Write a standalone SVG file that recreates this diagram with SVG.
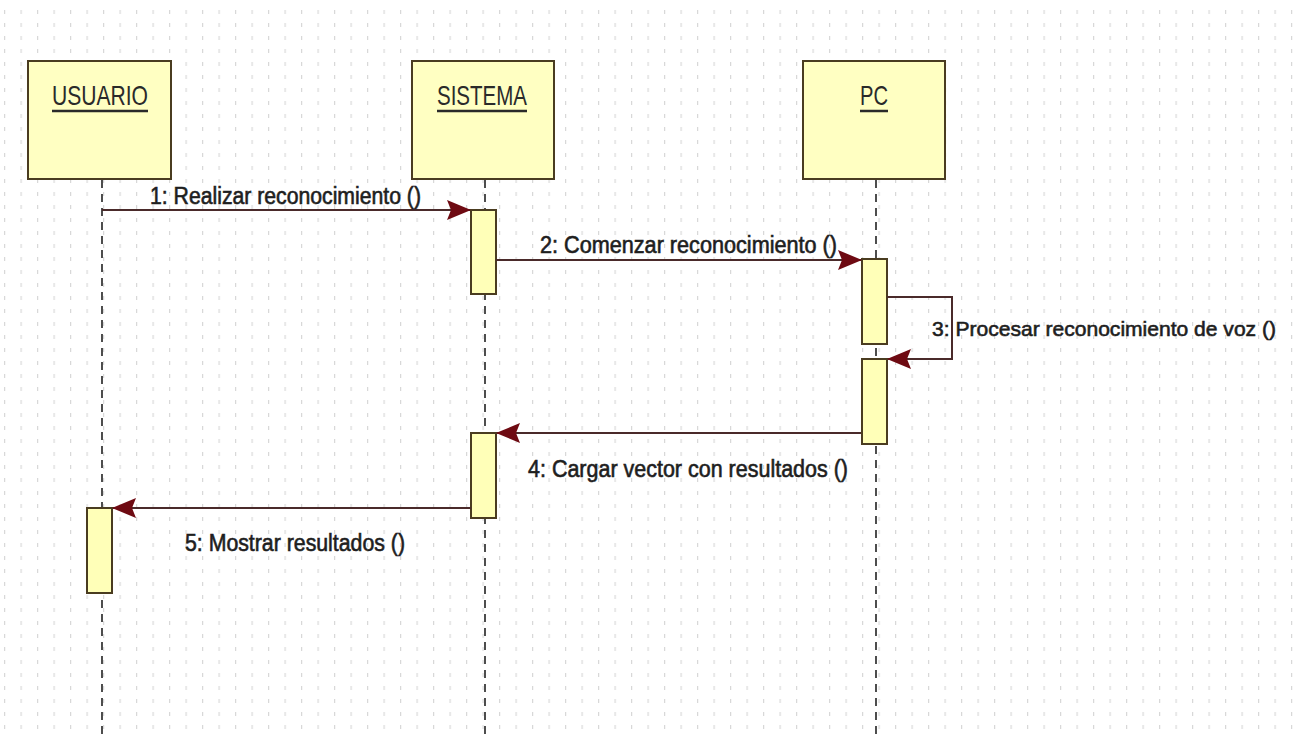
<svg xmlns="http://www.w3.org/2000/svg" width="1302" height="736" viewBox="0 0 1302 736">
<defs>
<pattern id="grid" x="4" y="8" width="16.5" height="13" patternUnits="userSpaceOnUse">
<rect x="0" y="2" width="1.2" height="4" fill="#d8d8d8"/>
</pattern>
<marker id="arr" viewBox="0 0 24 20" refX="23" refY="10" markerWidth="24" markerHeight="20" markerUnits="userSpaceOnUse" orient="auto">
<path d="M0,0 L24,10 L0,20 L4,10 Z" fill="#6e0a12"/>
</marker>
<style>
.box{fill:#ffffc2;stroke:#4a3c20;stroke-width:2}
.act{fill:#ffffb8;stroke:#4a3c20;stroke-width:2}
.life{stroke:#222;stroke-width:1.6;stroke-dasharray:8 6;fill:none}
.msg{stroke:#4a2a2a;stroke-width:2;fill:none}
.title{font-family:"Liberation Sans",Arial,sans-serif;font-size:28px;fill:#2a2a2a}
.ul{stroke:#2a2a2a;stroke-width:2.5}
.lbl{font-family:"Liberation Sans",Arial,sans-serif;font-size:23px;fill:#1e1e1e;stroke:#1e1e1e;stroke-width:0.6}
.lbl3{font-size:21px}
</style>
</defs>
<rect width="1302" height="736" fill="#ffffff"/>
<rect x="0" y="8" width="1302" height="728" fill="url(#grid)"/>

<g id="usuario">
<line class="life" x1="102" y1="180" x2="102" y2="736"/>
<rect class="box" x="28" y="61" width="143" height="118"/>
<text class="title" x="52" y="105" textLength="96" lengthAdjust="spacingAndGlyphs">USUARIO</text>
<line class="ul" x1="52" y1="111" x2="148" y2="111"/>
<rect class="act" x="87" y="508" width="25" height="85"/>
</g>

<g id="sistema">
<line class="life" x1="485" y1="180" x2="485" y2="736"/>
<rect class="box" x="412" y="61" width="142" height="118"/>
<text class="title" x="437" y="105" textLength="90" lengthAdjust="spacingAndGlyphs">SISTEMA</text>
<line class="ul" x1="437" y1="111" x2="527" y2="111"/>
<rect class="act" x="471" y="210" width="25" height="84"/>
<rect class="act" x="471" y="433" width="25" height="85"/>
</g>

<g id="pc">
<line class="life" x1="876" y1="180" x2="876" y2="736"/>
<rect class="box" x="803" y="61" width="142" height="118"/>
<text class="title" x="860" y="105" textLength="28" lengthAdjust="spacingAndGlyphs">PC</text>
<line class="ul" x1="860" y1="111" x2="888" y2="111"/>
<rect class="act" x="862" y="259" width="25" height="85"/>
<rect class="act" x="862" y="359" width="25" height="85"/>
</g>

<g id="connectors">
<line class="msg" x1="102" y1="210" x2="470" y2="210" marker-end="url(#arr)"/>
<line class="msg" x1="496" y1="260" x2="861" y2="260" marker-end="url(#arr)"/>
<polyline class="msg" points="887,297 952,297 952,359 888,359" marker-end="url(#arr)"/>
<line class="msg" x1="861" y1="433" x2="497" y2="433" marker-end="url(#arr)"/>
<line class="msg" x1="471" y1="508" x2="113" y2="508" marker-end="url(#arr)"/>
<text class="lbl" x="150" y="204" textLength="271" lengthAdjust="spacingAndGlyphs">1: Realizar reconocimiento ()</text>
<text class="lbl" x="540" y="253" textLength="297" lengthAdjust="spacingAndGlyphs">2: Comenzar reconocimiento ()</text>
<text class="lbl lbl3" x="932" y="336" textLength="344" lengthAdjust="spacingAndGlyphs">3: Procesar reconocimiento de voz ()</text>
<text class="lbl" x="528" y="477" textLength="320" lengthAdjust="spacingAndGlyphs">4: Cargar vector con resultados ()</text>
<text class="lbl" x="185" y="551" textLength="220" lengthAdjust="spacingAndGlyphs">5: Mostrar resultados ()</text>
</g>
</svg>
